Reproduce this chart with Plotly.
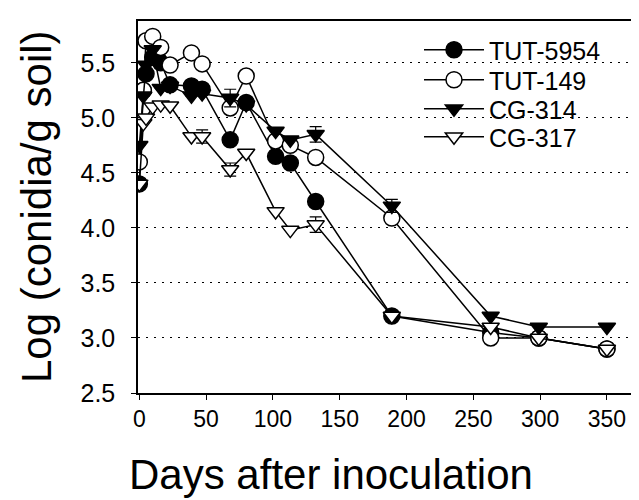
import plotly.graph_objects as go

days = [0, 3, 5, 10, 16, 23, 39, 47, 68, 80, 102, 113, 132, 189, 263, 299, 350]

tut5954 = [4.40, 5.25, 5.40, 5.55, 5.50, 5.30, 5.29, 5.26, 4.80, 5.14, 4.65, 4.59, 4.24, 3.20, 3.05, 3.00, 2.90]
tut149 = [4.60, 5.25, 5.70, 5.74, 5.64, 5.48, 5.59, 5.49, 5.09, 5.38, 4.79, 4.75, 4.64, 4.09, 3.00, 3.00, 2.90]
cg314 = [4.75, 5.20, 5.48, 5.62, 5.27, 5.29, 5.20, 5.22, 5.18, 5.12, 4.88, 4.80, 4.85, 4.20, 3.20, 3.10, 3.10]
cg317 = [4.40, 4.95, 5.00, 5.10, 5.12, 5.11, 4.83, 4.83, 4.53, 4.68, 4.15, 3.98, 4.03, 3.20, 3.10, 3.00, 2.90]

err314 = [0, 0, 0, 0, 0, 0, 0, 0, 0.08, 0, 0, 0, 0.07, 0.06, 0, 0, 0]
err317 = [0, 0, 0, 0, 0, 0, 0, 0.06, 0.06, 0, 0, 0, 0.07, 0, 0, 0, 0]

names = ["TUT-5954", "TUT-149", "CG-314", "CG-317"]
xticks = [0, 50, 100, 150, 200, 250, 300, 350]
yticks = [2.5, 3.0, 3.5, 4.0, 4.5, 5.0, 5.5]

FONT = "Liberation Sans, Arial, sans-serif"

series = [
    (names[0], tut5954, None, "circle", "black", 16),
    (names[1], tut149, None, "circle", "white", 16),
    (names[2], cg314, err314, "triangle-down", "black", 15),
    (names[3], cg317, err317, "triangle-down", "white", 15),
]

# plot area geometry in pixels
L, T, W, H = 130, 13, 509, 372
legend_rows_px = [42, 72, 101, 129]

fig = go.Figure()
legend_layout = {}
for i, (name, vals, err, sym, fill, size) in enumerate(series):
    kw = {}
    if err is not None:
        kw["error_y"] = dict(type="data", array=err, color="black", thickness=1.2, width=6)
    lg = "legend" if i == 0 else f"legend{i + 1}"
    fig.add_trace(go.Scatter(
        x=days, y=vals, name=name, mode="lines+markers", legend=lg,
        line=dict(color="black", width=1.5),
        marker=dict(symbol=sym, size=size, color=fill, line=dict(color="black", width=1.5)),
        **kw,
    ))
    legend_layout[lg] = dict(
        x=(411 - L) / W, y=1 - (legend_rows_px[i] - T) / H,
        xanchor="left", yanchor="middle",
        bgcolor="rgba(0,0,0,0)", font=dict(size=25, family=FONT),
        itemwidth=60,
    )

fig.update_layout(
    width=639, height=500,
    margin=dict(l=L, r=639 - L - W, t=T, b=500 - T - H),
    paper_bgcolor="white", plot_bgcolor="white",
    font=dict(family=FONT, color="black"),
    showlegend=True,
    annotations=[
        dict(text="Days after inoculation", xref="paper", yref="paper",
             x=(323 - L) / W, y=-(466 - (T + H)) / H, xanchor="center", yanchor="middle",
             showarrow=False, font=dict(size=42, family=FONT)),
        dict(text="Log (conidia/g soil)", xref="paper", yref="paper",
             x=-(L - 28) / W, y=0.5, xanchor="center", yanchor="middle",
             textangle=-90, showarrow=False, font=dict(size=42, family=FONT)),
    ],
    **legend_layout,
)

fig.update_xaxes(
    range=[-1, 380], tickvals=xticks, ticks="outside", ticklen=5, tickwidth=1.2,
    tickcolor="black", showline=True, linecolor="black", linewidth=1.5, mirror=True,
    showgrid=False, zeroline=False, tickfont=dict(size=23, family=FONT),
)
fig.update_yaxes(
    range=[2.5, 5.88], tickvals=yticks, tickformat=".1f", ticks="outside", ticklen=5,
    tickwidth=1.2, tickcolor="black", showline=True, linecolor="black", linewidth=1.5,
    showgrid=True, gridcolor="black", gridwidth=1, griddash="2px,6px", zeroline=False,
    tickfont=dict(size=25, family=FONT), ticklabelstandoff=11,
)

fig.write_html("out.html")
